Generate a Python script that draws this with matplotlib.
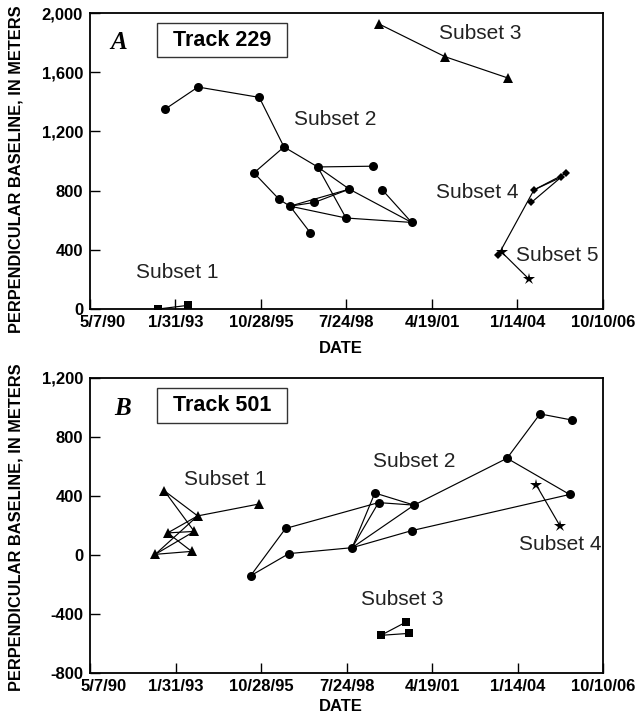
import matplotlib
matplotlib.use("Agg")
import matplotlib.pyplot as plt
import matplotlib.transforms as mtransforms
from matplotlib.patches import Rectangle
import pandas as pd

plt.rcParams['font.family'] = ['Liberation Sans', 'DejaVu Sans']

# ---------------- data ----------------
tick_dates = ["1990-05-07", "1993-01-31", "1995-10-28", "1998-07-24",
              "2001-04-19", "2004-01-14", "2006-10-10"]
tick_labels = ["5/7/90", "1/31/93", "10/28/95", "7/24/98", "4/19/01", "1/14/04", "10/10/06"]

# Track 229
a_s1_dates = ["1992-07-14", "1993-06-30"]
a_s1_vals = [0, 25]
a_s1_edges = [(0, 1)]

a_s2_dates = ["1992-09-30", "1993-10-21", "1995-10-08", "1996-07-23", "1995-08-07",
              "1997-08-21", "1996-05-29", "1996-10-01", "1997-07-13", "1997-05-27",
              "1999-05-26", "1998-08-26", "1999-09-16", "1998-07-18", "2000-08-24"]
a_s2_vals = [1350, 1500, 1430, 1095, 920, 960, 740, 695, 720, 515, 965, 810, 805, 615, 585]
a_s2_edges = [(0, 1), (1, 2), (2, 3), (3, 4), (3, 5), (4, 6), (6, 7), (7, 9),
              (5, 10), (5, 11), (5, 13), (7, 8), (8, 11), (7, 11), (7, 13),
              (13, 14), (11, 14), (12, 14)]

a_s3_dates = ["1999-08-12", "2001-09-18", "2003-09-29"]
a_s3_vals = [1925, 1705, 1560]
a_s3_edges = [(0, 1), (1, 2)]

a_s4_dates = ["2003-06-04", "2004-07-25", "2004-06-24", "2005-08-03", "2005-06-06"]
a_s4_vals = [365, 805, 720, 917, 890]
a_s4_edges = [(0, 1), (1, 3), (1, 4), (2, 4)]

a_s5_dates = ["2003-07-12", "2004-05-31"]
a_s5_vals = [385, 200]
a_s5_edges = [(0, 1)]

# Track 501
b_s1_dates = ["1992-09-19", "1993-10-14", "1992-10-28", "1993-09-04",
              "1992-06-05", "1993-08-05", "1995-09-28"]
b_s1_vals = [435, 265, 150, 160, 5, 25, 345]
b_s1_edges = [(0, 1), (0, 3), (2, 3), (2, 5), (2, 1), (4, 1), (4, 3), (4, 5), (1, 6)]

b_s2_dates = ["1995-06-26", "1996-08-08", "1996-09-16", "1999-06-19", "1999-08-01",
              "2000-09-20", "1998-09-26", "2000-08-21", "2003-09-13", "2004-10-03",
              "2005-10-17", "2005-09-15"]
b_s2_vals = [-140, 180, 10, 420, 355, 338, 50, 165, 655, 955, 913, 410]
b_s2_edges = [(0, 1), (0, 2), (1, 4), (2, 6), (6, 3), (6, 4), (6, 5), (6, 7),
              (3, 5), (4, 5), (5, 8), (8, 9), (9, 10), (8, 11), (7, 11)]

b_s3_dates = ["1999-08-28", "2000-06-12", "2000-07-17"]
b_s3_vals = [-543, -455, -530]
b_s3_edges = [(0, 1), (0, 2)]

b_s4_dates = ["2004-08-22", "2005-05-22"]
b_s4_vals = [472, 200]
b_s4_edges = [(0, 1)]

# ---------------- figure ----------------
fig = plt.figure(figsize=(6.41, 7.24), dpi=100)
axA = fig.add_axes([0.1404, 0.5732, 0.8003, 0.4088])
axB = fig.add_axes([0.1409, 0.0700, 0.7998, 0.4083])

LW = 0.85


def draw_subset(ax, dates, vals, edges, marker, ms):
    d = pd.to_datetime(dates)
    for i, j in edges:
        ax.plot([d[i], d[j]], [vals[i], vals[j]], color='black', lw=LW, zorder=2)
    ax.plot(d, vals, linestyle='none', marker=marker, ms=ms, color='black',
            markeredgewidth=0, zorder=3)


def style_axis(ax, ylim, yticks, ylabels, ylab_y, xlab_y):
    ax.set_xlim(pd.Timestamp(tick_dates[0]), pd.Timestamp(tick_dates[-1]))
    ax.set_ylim(*ylim)
    ax.set_xticks(pd.to_datetime(tick_dates))
    ax.set_xticklabels(tick_labels, fontsize=12, fontweight='bold')
    ax.set_yticks(yticks)
    ax.set_yticklabels(ylabels, fontsize=12, fontweight='bold')
    ax.tick_params(direction='in', length=7.5, width=1.0, pad=4)
    ax.tick_params(axis='y', pad=5)
    for s in ax.spines.values():
        s.set_linewidth(1.3)
    # shift first x tick label right so it clears the "0"/"-800" label
    first = ax.get_xticklabels()[0]
    first.set_transform(first.get_transform() +
                        mtransforms.ScaledTranslation(13 / 100, 0, fig.dpi_scale_trans))
    ax.set_xlabel("DATE", fontsize=12, fontweight='bold')
    ax.xaxis.set_label_coords(0.489, xlab_y)
    ax.set_ylabel("PERPENDICULAR BASELINE, IN METERS", fontsize=11.8,
                  fontweight='bold')
    ax.yaxis.set_label_coords(-0.130, ylab_y)


# Panel A
draw_subset(axA, a_s1_dates, a_s1_vals, a_s1_edges, 's', 6)
draw_subset(axA, a_s2_dates, a_s2_vals, a_s2_edges, 'o', 6.5)
draw_subset(axA, a_s3_dates, a_s3_vals, a_s3_edges, '^', 7)
draw_subset(axA, a_s4_dates, a_s4_vals, a_s4_edges, 'D', 4.5)
draw_subset(axA, a_s5_dates, a_s5_vals, a_s5_edges, '*', 9)
style_axis(axA, (0, 2000), [0, 400, 800, 1200, 1600, 2000],
           ["0", "400", "800", "1,200", "1,600", "2,000"], 0.473, -0.108)

# Panel B
draw_subset(axB, b_s1_dates, b_s1_vals, b_s1_edges, '^', 7)
draw_subset(axB, b_s2_dates, b_s2_vals, b_s2_edges, 'o', 6.5)
draw_subset(axB, b_s3_dates, b_s3_vals, b_s3_edges, 's', 6)
draw_subset(axB, b_s4_dates, b_s4_vals, b_s4_edges, '*', 9)
style_axis(axB, (-800, 1200), [-800, -400, 0, 400, 800, 1200],
           ["-800", "-400", "0", "400", "800", "1,200"], 0.495, -0.087)


# annotations
def panel_header(ax, letter, track, lx, ly, box):
    ax.text(lx, ly, letter, transform=ax.transAxes, fontsize=18,
            fontweight='bold', style='italic', family='Liberation Serif',
            ha='center', va='center')
    x0, y0, x1, y1 = box
    ax.add_patch(Rectangle((x0, y0), x1 - x0, y1 - y0, transform=ax.transAxes,
                           fill=False, lw=1.0, edgecolor='#333333'))
    ax.text((x0 + x1) / 2, (y0 + y1) / 2, track, transform=ax.transAxes,
            fontsize=15.5, fontweight='bold', ha='center', va='center')


panel_header(axA, "A", "Track 229", 0.055, 0.899, (0.1306, 0.851, 0.384, 0.966))
panel_header(axB, "B", "Track 501", 0.062, 0.897, (0.1306, 0.847, 0.384, 0.965))

for ax, txt, x, y in [(axA, "Subset 1", 0.170, 0.122), (axA, "Subset 2", 0.478, 0.639),
                      (axA, "Subset 3", 0.760, 0.932), (axA, "Subset 4", 0.754, 0.395),
                      (axA, "Subset 5", 0.910, 0.182),
                      (axB, "Subset 1", 0.263, 0.654), (axB, "Subset 2", 0.631, 0.715),
                      (axB, "Subset 4", 0.916, 0.437), (axB, "Subset 3", 0.608, 0.251)]:
    ax.text(x, y, txt, transform=ax.transAxes, fontsize=15, ha='center',
            va='center', color='#222222')

fig.savefig("out.png", dpi=100)
